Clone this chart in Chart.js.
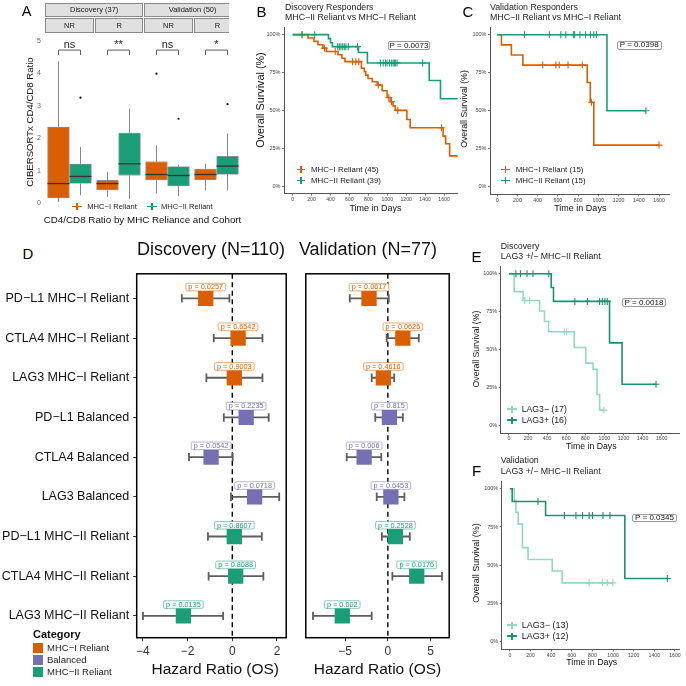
<!DOCTYPE html>
<html><head><meta charset="utf-8">
<script src="https://cdn.jsdelivr.net/npm/chart.js@4.4.1/dist/chart.umd.min.js"></script>
<style>
html,body{margin:0;padding:0;background:#fff;}
body{width:686px;height:686px;overflow:hidden;position:relative;font-family:"Liberation Sans",Arial,Helvetica,sans-serif;}
.abs{position:absolute;white-space:nowrap;line-height:1;}
canvas{position:absolute;}
</style></head><body>
<script>
// ================= DATA =================
// Panel A : CD4/CD8 ratio box plots
const boxFacets = ['Discovery NR','Discovery R','Validation NR','Validation R'];
const boxTicks = [0,1,2,3,4,5];
const mhc1Min = [0.03,0.19,0.29,0.39];
const mhc1Q1  = [0.15,0.39,0.70,0.72];
const mhc1Med = [0.60,0.60,0.88,0.88];
const mhc1Q3  = [2.35,0.70,1.28,1.06];
const mhc1Max = [4.37,0.96,1.78,1.21];
const mhc1Out = [[],[],[3.99],[]];
const mhc2Min = [0.24,0.13,0.21,0.39];
const mhc2Q1  = [0.60,0.85,0.52,0.88];
const mhc2Med = [0.82,1.21,0.85,1.14];
const mhc2Q3  = [1.21,2.17,1.13,1.44];
const mhc2Max = [1.73,2.91,1.18,2.14];
const mhc2Out = [[3.25],[],[2.60],[3.05]];
const sigLabels = ['ns','**','ns','*'];

// KM axes
const kmXTicks = [0,200,400,600,800,1000,1200,1400,1600];
const kmYTicks = [0,25,50,75,100];

// Panel B : Discovery responders
const bMhc1Time = [0,163,226,268,320,355,480,521,553,727,757,772,797,842,894,946,998,1033,1061,1085,1207,1242,1590,1617,1659,1745];
const bMhc1Surv = [100,97.8,95.6,93.3,91.1,88.9,86.7,84.4,82.2,77.8,75.6,73.3,71.1,68.9,66.7,63.0,58.5,55.7,53.0,50.0,44.0,38.5,33.0,28.0,20.0,20.0];
const bMhc1Cens = [100,337,450,633,668,700,905,1016,1045,1110,1572];
const bMhc2Time = [0,379,400,420,696,790,1443,1562,1745];
const bMhc2Surv = [100,97.4,94.7,92.1,88.2,81.3,69.7,57.7,57.7];
const bMhc2Cens = [100,233,477,494,511,529,546,563,588,685,929,957,981,998,1023,1043,1061,1075,1085,1103,1374];

// Panel C : Validation responders
const cMhc1Time = [0,42,140,254,890,920,955,1600];
const cMhc1Surv = [100,93.3,86.7,80.0,68.6,55.6,27.4,27.4];
const cMhc1Cens = [450,580,613,700,841,932,1600];
const cMhc2Time = [0,1085,1470];
const cMhc2Surv = [100,50,50];
const cMhc2Cens = [270,515,629,678,753,766,818,873,922,955,981,1470];

// Panel E : Discovery LAG3
const eNegTime = [0,55,149,321,373,415,684,805,881,923,950,995];
const eNegSurv = [100,88.2,82.4,75.5,68.6,61.8,51.5,41.2,37.2,20.6,10.3,10.3];
const eNegCens = [166,218,580,605,995];
const ePosTime = [0,443,467,1054,1185,1541];
const ePosSurv = [100,90.9,81.8,54.5,27.3,27.3];
const ePosCens = [73,121,190,252,418,691,822,950,978,1005,1030,1541];

// Panel F : Validation LAG3
const fNegTime = [0,42,58,80,122,176,410,506,998];
const fNegSurv = [100,92.3,84.6,76.9,61.5,53.8,46.2,38.5,38.5];
const fNegCens = [768,896,944,998];
const fPosTime = [0,22,346,1114,1526];
const fPosSurv = [100,91.7,82.5,41.3,41.3];
const fPosCens = [272,528,640,704,768,800,902,970,1526];

// Panel D : forest plots
const forestLabels = ['PD\u2212L1 MHC\u2212I Reliant','CTLA4 MHC\u2212I Reliant','LAG3 MHC\u2212I Reliant','PD\u2212L1 Balanced','CTLA4 Balanced','LAG3 Balanced','PD\u2212L1 MHC\u2212II Reliant','CTLA4 MHC\u2212II Reliant','LAG3 MHC\u2212II Reliant'];
const forestCategory = ['MHC\u2212I Reliant','MHC\u2212I Reliant','MHC\u2212I Reliant','Balanced','Balanced','Balanced','MHC\u2212II Reliant','MHC\u2212II Reliant','MHC\u2212II Reliant'];
const discHR = [-1.19,0.26,0.09,0.62,-0.95,1.00,0.09,0.15,-2.19];
const discLo = [-2.26,-0.83,-1.16,-0.38,-1.94,-0.06,-1.09,-1.06,-4.00];
const discHi = [-0.13,1.35,1.35,1.63,0.02,2.10,1.32,1.39,-0.41];
const discP  = ['0.0257','0.6542','0.9003','0.2235','0.0542','0.0718','0.8607','0.8088','0.0135'];
const valHR = [-2.20,1.75,-0.53,0.18,-2.77,0.35,0.88,3.37,-5.32];
const valLo = [-4.45,-0.14,-1.89,-1.47,-4.81,-1.30,-0.70,0.53,-8.74];
const valHi = [0.10,3.61,0.74,1.75,-0.77,1.93,2.56,6.32,-1.89];
const valP  = ['0.0617','0.0626','0.4616','0.815','0.006','0.6453','0.2528','0.0176','0.002'];
const discXTicks = [-4,-2,0,2];
const valXTicks = [-5,0,5];

// ================= STYLE =================
const COL_MHC1='#D95F02', COL_BAL='#7570B3', COL_MHC2='#1B9E77', COL_POS='#1a9470', COL_NEG='#93d9c2';
const catColor = {'MHC\u2212I Reliant':COL_MHC1,'Balanced':COL_BAL,'MHC\u2212II Reliant':COL_MHC2};
Chart.defaults.font.family='"Liberation Sans", Arial, Helvetica, sans-serif';
const FF='"Liberation Sans", Arial, Helvetica, sans-serif';

function addText(str,x,y,o){o=o||{};const d=document.createElement('div');d.className='abs';d.textContent=str;const s=d.style;
 s.left=x+'px';s.top=y+'px';s.fontSize=(o.size||10)+'px';s.color=o.color||'#000';if(o.bold)s.fontWeight='bold';
 const ax=o.anchor==='middle'?'-50%':(o.anchor==='end'?'-100%':'0');
 s.transform='translate('+ax+',-50%)'+(o.rot?' rotate('+o.rot+'deg)':'');document.body.appendChild(d);return d;}
function addBox(x1,y1,x2,y2,st){const d=document.createElement('div');d.className='abs';Object.assign(d.style,{left:x1+'px',top:y1+'px',width:(x2-x1)+'px',height:(y2-y1)+'px',boxSizing:'border-box'},st||{});document.body.appendChild(d);return d;}
function cross(x,y,color,w,h,lw){addBox(x-w/2,y-lw/2,x+w/2,y+lw/2,{background:color});addBox(x-lw/2,y-h/2,x+lw/2,y+h/2,{background:color});}
function pbox(str,x1,y1,x2,y2,size){const d=addBox(x1,y1,x2,y2,{border:'0.8px solid #9a9a9a',borderRadius:'2px',background:'#fff',display:'flex',alignItems:'center',justifyContent:'center',fontSize:size+'px',color:'#111'});d.textContent=str;}
function makeCanvas(L,T,R,B,yw,xh){
 const cl=Math.floor(L-yw-3), ct=Math.floor(T-3);
 const cw=Math.ceil(R+3)-cl, ch=Math.ceil(B+xh+1)-ct;
 const c=document.createElement('canvas');c.width=cw;c.height=ch;
 Object.assign(c.style,{left:cl+'px',top:ct+'px',width:cw+'px',height:ch+'px'});document.body.appendChild(c);
 return {canvas:c,padding:{left:L-yw-cl,top:T-ct,right:cl+cw-R,bottom:ct+ch-B-xh}};
}
const fmtMinus=v=>v<0?'\u2212'+Math.abs(v):String(v);
function stepAt(times,surv,t){let s=surv[0];for(let i=0;i<times.length;i++){if(times[i]<=t)s=surv[i];}return s;}

// ================= PANEL A =================
const boxPlugin={id:'boxp',
 beforeDatasetsDraw(chart,args,opts){const ctx=chart.ctx,ys=chart.scales.y;ctx.save();ctx.strokeStyle='#666';ctx.lineWidth=0.8;
  opts.stats.forEach((st,di)=>{chart.getDatasetMeta(di).data.forEach((bar,i)=>{ctx.beginPath();
   ctx.moveTo(bar.x,ys.getPixelForValue(st.q3[i]));ctx.lineTo(bar.x,ys.getPixelForValue(st.max[i]));
   ctx.moveTo(bar.x,ys.getPixelForValue(st.q1[i]));ctx.lineTo(bar.x,ys.getPixelForValue(st.min[i]));ctx.stroke();});});ctx.restore();},
 afterDatasetsDraw(chart,args,opts){const ctx=chart.ctx,ys=chart.scales.y;ctx.save();
  opts.stats.forEach((st,di)=>{chart.getDatasetMeta(di).data.forEach((bar,i)=>{
   const ym=ys.getPixelForValue(st.med[i]);ctx.strokeStyle='#333';ctx.lineWidth=1.3;ctx.beginPath();ctx.moveTo(bar.x-bar.width/2,ym);ctx.lineTo(bar.x+bar.width/2,ym);ctx.stroke();
   ctx.fillStyle='#111';st.out[i].forEach(v=>{ctx.beginPath();ctx.arc(bar.x,ys.getPixelForValue(v),1.1,0,Math.PI*2);ctx.fill();});});});
  const m0=chart.getDatasetMeta(0).data,m1=chart.getDatasetMeta(1).data;
  const yb=ys.getPixelForValue(opts.bracketY),yl=ys.getPixelForValue(opts.bracketLeg);
  ctx.strokeStyle='#333';ctx.lineWidth=0.8;ctx.fillStyle='#222';ctx.font='11px '+FF;ctx.textAlign='center';ctx.textBaseline='alphabetic';
  opts.labels.forEach((lab,i)=>{const x1=m0[i].x,x2=m1[i].x;ctx.beginPath();ctx.moveTo(x1,yl);ctx.lineTo(x1,yb);ctx.lineTo(x2,yb);ctx.lineTo(x2,yl);ctx.stroke();
   ctx.fillText(lab,(x1+x2)/2,yb-2);});
  ctx.restore();}
};
(function(){
 const yMin=-0.15,yMax=5.25,px=32.4,y0=203;
 const {canvas,padding}=makeCanvas(45,y0-yMax*px,241,y0-yMin*px,45,0);
 new Chart(canvas,{type:'bar',data:{labels:boxFacets,datasets:[
  {data:boxFacets.map((_,i)=>[mhc1Q1[i],mhc1Q3[i]]),backgroundColor:COL_MHC1,borderColor:'#333',borderWidth:0.6,borderSkipped:false,categoryPercentage:0.9,barPercentage:1},
  {data:boxFacets.map((_,i)=>[mhc2Q1[i],mhc2Q3[i]]),backgroundColor:COL_MHC2,borderColor:'#333',borderWidth:0.6,borderSkipped:false,categoryPercentage:0.9,barPercentage:1}]},
  options:{responsive:false,animation:false,events:[],layout:{padding},
   plugins:{legend:{display:false},tooltip:{enabled:false},
    boxp:{stats:[{min:mhc1Min,q1:mhc1Q1,med:mhc1Med,q3:mhc1Q3,max:mhc1Max,out:mhc1Out},{min:mhc2Min,q1:mhc2Q1,med:mhc2Med,q3:mhc2Q3,max:mhc2Max,out:mhc2Out}],labels:sigLabels,bracketY:4.72,bracketLeg:4.57}},
   scales:{x:{display:false},
    y:{min:yMin,max:yMax,afterBuildTicks:s=>{s.ticks=boxTicks.map(v=>({value:v}));},afterFit:s=>{s.width=45;s.paddingTop=0;s.paddingBottom=0;},
     grid:{display:false,drawTicks:false},border:{display:false},ticks:{font:{size:7},color:'#666',padding:4}}}},
  plugins:[boxPlugin]});
})();

// ================= KM PANELS =================
function kmChart(L,T,R,B,xr,curves,xpad){
 const yw=24,xh=14;const {canvas,padding}=makeCanvas(L,T,R,B,yw,xh);const datasets=[];
 curves.forEach(c=>{
  datasets.push({data:c.t.map((t,i)=>({x:t,y:c.s[i]})),borderColor:c.color,borderWidth:1.6,stepped:'before',pointRadius:0,fill:false,showLine:true});
  datasets.push({data:c.cens.map(t=>({x:t,y:stepAt(c.t,c.s,t)})),showLine:false,pointStyle:'cross',pointRadius:3.5,borderColor:c.color,borderWidth:1.1,backgroundColor:c.color});
 });
 const g={display:true,drawOnChartArea:false,drawTicks:true,tickLength:2,color:'#555',lineWidth:0.8};
 new Chart(canvas,{type:'line',data:{datasets},options:{responsive:false,animation:false,events:[],layout:{padding},
  plugins:{legend:{display:false},tooltip:{enabled:false}},
  scales:{x:{type:'linear',min:xr[0],max:xr[1],afterBuildTicks:s=>{s.ticks=kmXTicks.map(v=>({value:v}));},afterFit:s=>{s.height=xh;s.paddingLeft=0;s.paddingRight=0;},
    grid:g,border:{display:true,color:'#555',width:1},ticks:{font:{size:5.2},color:'#444',padding:xpad,maxRotation:0,autoSkip:false,callback:v=>String(v)}},
   y:{type:'linear',min:-5,max:105,afterBuildTicks:s=>{s.ticks=kmYTicks.map(v=>({value:v}));},afterFit:s=>{s.width=yw;s.paddingTop=0;s.paddingBottom=0;},
    grid:g,border:{display:true,color:'#555',width:1},ticks:{font:{size:5.5},color:'#444',padding:1.5,autoSkip:false,callback:v=>v+'%'}}}}});
}
kmChart(284,25.04,460,193.7,[-90.8,1746],[
 {t:bMhc2Time,s:bMhc2Surv,cens:bMhc2Cens,color:COL_MHC2},{t:bMhc1Time,s:bMhc1Surv,cens:bMhc1Cens,color:COL_MHC1}],1);
kmChart(490,25.63,672,194.37,[-71.4,1707.5],[
 {t:cMhc2Time,s:cMhc2Surv,cens:cMhc2Cens,color:COL_MHC2},{t:cMhc1Time,s:cMhc1Surv,cens:cMhc1Cens,color:COL_MHC1}],1);
kmChart(500.7,264.0,681.7,433.4,[-86,1791],[
 {t:ePosTime,s:ePosSurv,cens:ePosCens,color:COL_POS},{t:eNegTime,s:eNegSurv,cens:eNegCens,color:COL_NEG}],0);
kmChart(501.7,479.6,681.7,649.4,[-79.7,1648],[
 {t:fPosTime,s:fPosSurv,cens:fPosCens,color:COL_POS},{t:fNegTime,s:fNegSurv,cens:fNegCens,color:COL_NEG}],1);

// ================= PANEL D =================
const forestPlugin={id:'forest',
 beforeDatasetsDraw(chart,args,o){const {ctx,chartArea:a,scales:{x,y}}=chart;ctx.save();
  const x0=x.getPixelForValue(0);ctx.strokeStyle='#000';ctx.lineWidth=1.4;ctx.setLineDash([5,3.5]);
  ctx.beginPath();ctx.moveTo(x0,a.top);ctx.lineTo(x0,a.bottom);ctx.stroke();ctx.setLineDash([]);
  ctx.strokeStyle='#5e5e5e';ctx.lineWidth=1.8;
  o.lo.forEach((lo,i)=>{const yy=y.getPixelForValue(i+1),xl=x.getPixelForValue(lo),xr=x.getPixelForValue(o.hi[i]);
   ctx.beginPath();ctx.moveTo(xl,yy);ctx.lineTo(xr,yy);ctx.moveTo(xl,yy-4.2);ctx.lineTo(xl,yy+4.2);ctx.moveTo(xr,yy-4.2);ctx.lineTo(xr,yy+4.2);ctx.stroke();});
  ctx.restore();},
 afterDatasetsDraw(chart,args,o){const {ctx,scales:{x,y}}=chart;ctx.save();ctx.font='7.3px '+FF;ctx.textAlign='center';ctx.textBaseline='middle';
  o.p.forEach((p,i)=>{const t='p = '+p,w=ctx.measureText(t).width+5,h=7.6,cx=x.getPixelForValue(o.hr[i]),cy=y.getPixelForValue(i+1)-11.3;
   const x1=cx-w/2,y1=cy-h/2,r=1.5;ctx.beginPath();ctx.moveTo(x1+r,y1);ctx.lineTo(x1+w-r,y1);ctx.quadraticCurveTo(x1+w,y1,x1+w,y1+r);ctx.lineTo(x1+w,y1+h-r);
   ctx.quadraticCurveTo(x1+w,y1+h,x1+w-r,y1+h);ctx.lineTo(x1+r,y1+h);ctx.quadraticCurveTo(x1,y1+h,x1,y1+h-r);ctx.lineTo(x1,y1+r);ctx.quadraticCurveTo(x1,y1,x1+r,y1);ctx.closePath();
   ctx.fillStyle='#fff';ctx.fill();ctx.globalAlpha=0.75;ctx.strokeStyle=o.colors[i];ctx.lineWidth=0.7;ctx.stroke();ctx.globalAlpha=1;
   ctx.fillStyle=o.colors[i];ctx.fillText(t,cx,cy+0.3);});
  ctx.restore();},
 afterDraw(chart){const {ctx,chartArea:a}=chart;ctx.save();ctx.strokeStyle='#000';ctx.lineWidth=1.5;ctx.strokeRect(a.left,a.top,a.right-a.left,a.bottom-a.top);ctx.restore();}
};
function forestChart(L,R,xr,xticks,hr,lo,hi,p,showY){
 const T=266,B=637.7,yw=showY?136.7:0,xh=25;const {canvas,padding}=makeCanvas(L,T,R,B,yw,xh);
 const colors=forestCategory.map(c=>catColor[c]);
 const g={display:true,drawOnChartArea:false,drawTicks:true,tickLength:3.5,color:'#333',lineWidth:1};
 new Chart(canvas,{type:'scatter',data:{datasets:[{data:hr.map((v,i)=>({x:v,y:i+1})),pointStyle:'rect',pointRadius:10.8,pointHoverRadius:10.8,backgroundColor:colors,borderWidth:0}]},
  options:{responsive:false,animation:false,events:[],layout:{padding},
   plugins:{legend:{display:false},tooltip:{enabled:false},forest:{hr,lo,hi,p,colors}},
   scales:{x:{type:'linear',min:xr[0],max:xr[1],afterBuildTicks:s=>{s.ticks=xticks.map(v=>({value:v}));},afterFit:s=>{s.height=xh;s.paddingLeft=0;s.paddingRight=0;},
     grid:g,border:{display:false},ticks:{font:{size:12},color:'#333',padding:3,maxRotation:0,autoSkip:false,callback:v=>fmtMinus(v)}},
    y:{type:'linear',display:showY,reverse:true,min:0.38,max:9.55,afterBuildTicks:s=>{s.ticks=forestLabels.map((_,i)=>({value:i+1}));},afterFit:s=>{s.width=yw;s.paddingTop=0;s.paddingBottom=0;},
     grid:g,border:{display:false},ticks:{font:{size:12.5},color:'#111',padding:4,autoSkip:false,callback:v=>forestLabels[Math.round(v)-1]}}}},
  plugins:[forestPlugin]});
}
forestChart(136.7,294,[-4.28,2.413],discXTicks,discHR,discLo,discHi,discP,true);
forestChart(298,457,[-9.58,7.16],valXTicks,valHR,valLo,valHi,valP,false);

// ================= TEXT / DECORATION =================
// Panel A
addBox(45,3.3,143.3,16.7,{background:'#e0e0e0',border:'0.8px solid #8a8a8a'});
addBox(144.3,3.3,229,16.7,{background:'#e0e0e0',border:'0.8px solid #8a8a8a',borderRight:'none'});
addBox(45,18.3,94,32.7,{background:'#e0e0e0',border:'0.8px solid #8a8a8a'});
addBox(95,18.3,143.3,32.7,{background:'#e0e0e0',border:'0.8px solid #8a8a8a'});
addBox(144.3,18.3,192.7,32.7,{background:'#e0e0e0',border:'0.8px solid #8a8a8a'});
addBox(194,18.3,229,32.7,{background:'#e0e0e0',border:'0.8px solid #8a8a8a',borderRight:'none'});
addText('Discovery (37)',94.2,10.2,{size:7.5,anchor:'middle',color:'#1a1a1a'});
addText('Validation (50)',192.6,10.2,{size:7.5,anchor:'middle',color:'#1a1a1a'});
addText('NR',69.5,25.6,{size:7.5,anchor:'middle',color:'#1a1a1a'});
addText('R',119.2,25.6,{size:7.5,anchor:'middle',color:'#1a1a1a'});
addText('NR',168.5,25.6,{size:7.5,anchor:'middle',color:'#1a1a1a'});
addText('R',217.5,25.6,{size:7.5,anchor:'middle',color:'#1a1a1a'});
addText('A',26.7,10.5,{size:14.5,anchor:'middle'});
addText('CIBERSORTx CD4/CD8 Ratio',30,122,{size:9.6,anchor:'middle',rot:-90,color:'#111'});
cross(77,206.7,COL_MHC1,10,7,1.5);addText('MHC\u2212I Reliant',87.3,206.9,{size:7.6,color:'#222'});
cross(152,206.7,COL_MHC2,10,7,1.5);addText('MHC\u2212II Reliant',161,206.9,{size:7.6,color:'#222'});
addText('CD4/CD8 Ratio by MHC Reliance and Cohort',142.5,220.3,{size:9.8,anchor:'middle',color:'#111'});

// Panel B
addText('B',261.5,10.5,{size:15,anchor:'middle'});
addText('Discovery Responders',285,6.8,{size:8.8,color:'#222'});
addText('MHC\u2212II Reliant vs MHC\u2212I Reliant',285,17.3,{size:8.8,color:'#222'});
addText('Overall Survival (%)',259.5,100,{size:10.8,anchor:'middle',rot:-90,color:'#111'});
addText('Time in Days',375.5,207.8,{size:9,anchor:'middle',color:'#111'});
cross(301,169.3,COL_MHC1,8.5,7,1.5);addText('MHC\u2212I Reliant (45)',311,169.5,{size:7.9,color:'#222'});
cross(301,180.3,COL_MHC2,8.5,7,1.5);addText('MHC\u2212II Reliant (39)',311,180.5,{size:7.9,color:'#222'});
pbox('P = 0.0073',388,41,430,50,8);

// Panel C
addText('C',468,10.5,{size:15,anchor:'middle'});
addText('Validation Responders',490,6.8,{size:8.8,color:'#222'});
addText('MHC\u2212II Reliant vs MHC\u2212I Reliant',490,17.3,{size:8.8,color:'#222'});
addText('Overall Survival (%)',464,109,{size:8.8,anchor:'middle',rot:-90,color:'#111'});
addText('Time in Days',580.3,208.2,{size:9,anchor:'middle',color:'#111'});
cross(505.5,169.3,COL_MHC1,8.5,7,1.5);addText('MHC\u2212I Reliant (15)',515.7,169.5,{size:7.9,color:'#222'});
cross(505.5,180.3,COL_MHC2,8.5,7,1.5);addText('MHC\u2212II Reliant (15)',515.7,180.5,{size:7.9,color:'#222'});
pbox('P = 0.0398',616.7,40.7,661.7,50,8);

// Panel D
addText('D',28,252.5,{size:15,anchor:'middle'});
addText('Discovery (N=110)',211,248.5,{size:18,anchor:'middle',color:'#111'});
addText('Validation (N=77)',368,248.5,{size:18,anchor:'middle',color:'#111'});
addText('Hazard Ratio (OS)',215.3,668.5,{size:15.5,anchor:'middle',color:'#111'});
addText('Hazard Ratio (OS)',377.5,668.5,{size:15.5,anchor:'middle',color:'#111'});
addText('Category',33,633.5,{size:11,bold:true,color:'#111'});
[['MHC\u2212I Reliant',COL_MHC1,647.7],['Balanced',COL_BAL,659.7],['MHC\u2212II Reliant',COL_MHC2,671.7]].forEach(r=>{
 addBox(33,r[2]-5,43,r[2]+5,{background:r[1]});addText(r[0],47,r[2]+0.3,{size:9.5,color:'#222'});});

// Panel E
addText('E',476.5,256,{size:15,anchor:'middle'});
addText('Discovery',500.7,245.5,{size:8.8,color:'#222'});
addText('LAG3 +/\u2212 MHC\u2212II Reliant',500.7,256.2,{size:8.8,color:'#222'});
addText('Overall Survival (%)',476,348.5,{size:8.7,anchor:'middle',rot:-90,color:'#111'});
addText('Time in Days',591.3,446.2,{size:8.7,anchor:'middle',color:'#111'});
cross(512,409,COL_NEG,10,7,1.6);addText('LAG3\u2212 (17)',521.7,409.2,{size:8.7,color:'#222'});
cross(512,420,COL_POS,10,7,1.6);addText('LAG3+ (16)',521.7,420.2,{size:8.7,color:'#222'});
pbox('P = 0.0018',622,298,666,307,8);

// Panel F
addText('F',476.5,470,{size:15,anchor:'middle'});
addText('Validation',500.7,460,{size:8.8,color:'#222'});
addText('LAG3 +/\u2212 MHC\u2212II Reliant',500.7,471,{size:8.8,color:'#222'});
addText('Overall Survival (%)',476,562.5,{size:9,anchor:'middle',rot:-90,color:'#111'});
addText('Time in Days',591.7,662.2,{size:8.8,anchor:'middle',color:'#111'});
cross(512,625,COL_NEG,10,7,1.6);addText('LAG3\u2212 (13)',521.7,625.2,{size:9,color:'#222'});
cross(512,636,COL_POS,10,7,1.6);addText('LAG3+ (12)',521.7,636.2,{size:9,color:'#222'});
pbox('P = 0.0345',632,514,677,522,8);
</script></body></html>
